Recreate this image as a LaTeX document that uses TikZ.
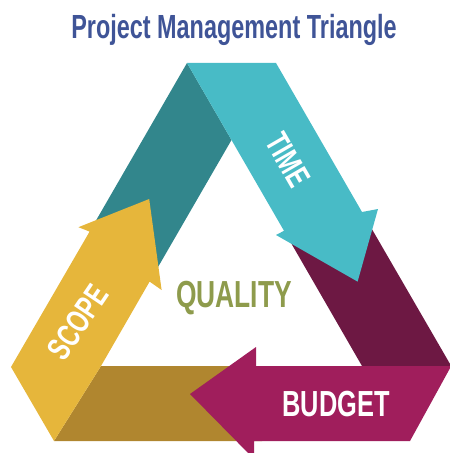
\documentclass[tikz,border=0pt]{standalone}
\usepackage{fontspec}
\newfontfamily\gothic[FakeStretch=0.7,UprightFont=* Bold]{Liberation Sans}

\definecolor{timeblue}{HTML}{48BBC6}
\definecolor{timedark}{HTML}{32868C}
\definecolor{scopeyellow}{HTML}{E6B63B}
\definecolor{scopedark}{HTML}{B0862F}
\definecolor{budgetred}{HTML}{A01E5C}
\definecolor{budgetdark}{HTML}{6D1843}
\definecolor{qualitygreen}{HTML}{8E9B4C}
\definecolor{titleblue}{HTML}{3F5497}

\tikzset{
  bandtext/.style={text=white, inner sep=0pt, font=\gothic\fontsize{23.5}{24}\selectfont}
}

\begin{document}
\begin{tikzpicture}

    \useasboundingbox (0, 0) rectangle (11.225, -11.325);

    % outer edge of the band
    \coordinate (TL) at (4.675, -1.575);
    \coordinate (TR) at (6.9, -1.575);
    \coordinate (RR) at (11.28, -9.15);
    \coordinate (RD) at (10.25, -11.025);
    \coordinate (LL) at (0.275, -9.175);
    \coordinate (LD) at (1.35, -11.025);

    % inner triangle
    \coordinate (IA) at (5.7875, -3.5);
    \coordinate (IL) at (2.525, -9.15);
    \coordinate (IR) at (9.05, -9.15);

    % time arrow
    \coordinate (TS1) at (9.05, -5.3);
    \coordinate (TB1) at (9.45, -5.225);
    \coordinate (TT) at (8.94, -7.04);
    \coordinate (TB2) at (6.9, -5.875);
    \coordinate (TS2) at (7.1, -5.77);

    % scope arrow
    \coordinate (SS1) at (2.24, -5.79);
    \coordinate (SB1) at (1.96, -5.68);
    \coordinate (ST) at (3.73, -4.975);
    \coordinate (SB2) at (4.04, -7.25);
    \coordinate (SS2) at (3.74, -7.04);

    % budget arrow
    \coordinate (BT) at (4.75, -9.85);
    \coordinate (BB1) at (6.4, -8.675);
    \coordinate (BS1) at (6.4, -9.15);
    \coordinate (BS2) at (6.35, -11.025);
    \coordinate (BB2) at (6.35, -11.475);

    % folded back parts
    \fill[timedark] (TL) -- (IA) -- (SS2) -- (SS1) -- cycle;
    \fill[budgetdark] (TS2) -- (TS1) -- (RR) -- (IR) -- cycle;
    \fill[scopedark] (IL) -- (LD) -- (6.55, -11.025) -- (6.55, -9.15) -- cycle;

    \fill[timeblue] (TL) -- (TR) -- (TS1) -- (TB1) -- (TT) -- (TB2) -- (TS2)
    -- (IA) -- cycle;
    \fill[scopeyellow] (LL) -- (SS1) -- (SB1) -- (ST) -- (SB2) -- (SS2) -- (IL)
    -- (LD) -- cycle;
    \fill[budgetred] (BT) -- (BB1) -- (BS1) -- (RR) -- (RD) -- (BS2) -- (BB2)
    -- cycle;

    \node[anchor=base, text=titleblue, font=\gothic\fontsize{23.8}{24}\selectfont]
    (title) at (5.85, -0.975) {Project Management Triangle};
    \node[anchor=base, text=qualitygreen, font=\gothic\fontsize{26.8}{27}\selectfont]
    (quality) at (5.85, -7.675) {QUALITY};

    \node[bandtext, rotate=-60] (time) at (7.2, -4.0) {TIME};
    \node[bandtext, rotate=56] (scope) at (1.95, -8.06) {SCOPE};
    \node[bandtext, anchor=base, font=\gothic\fontsize{25.8}{26}\selectfont]
    (budget) at (8.4, -10.42) {BUDGET};

  \end{tikzpicture}
\end{document}
